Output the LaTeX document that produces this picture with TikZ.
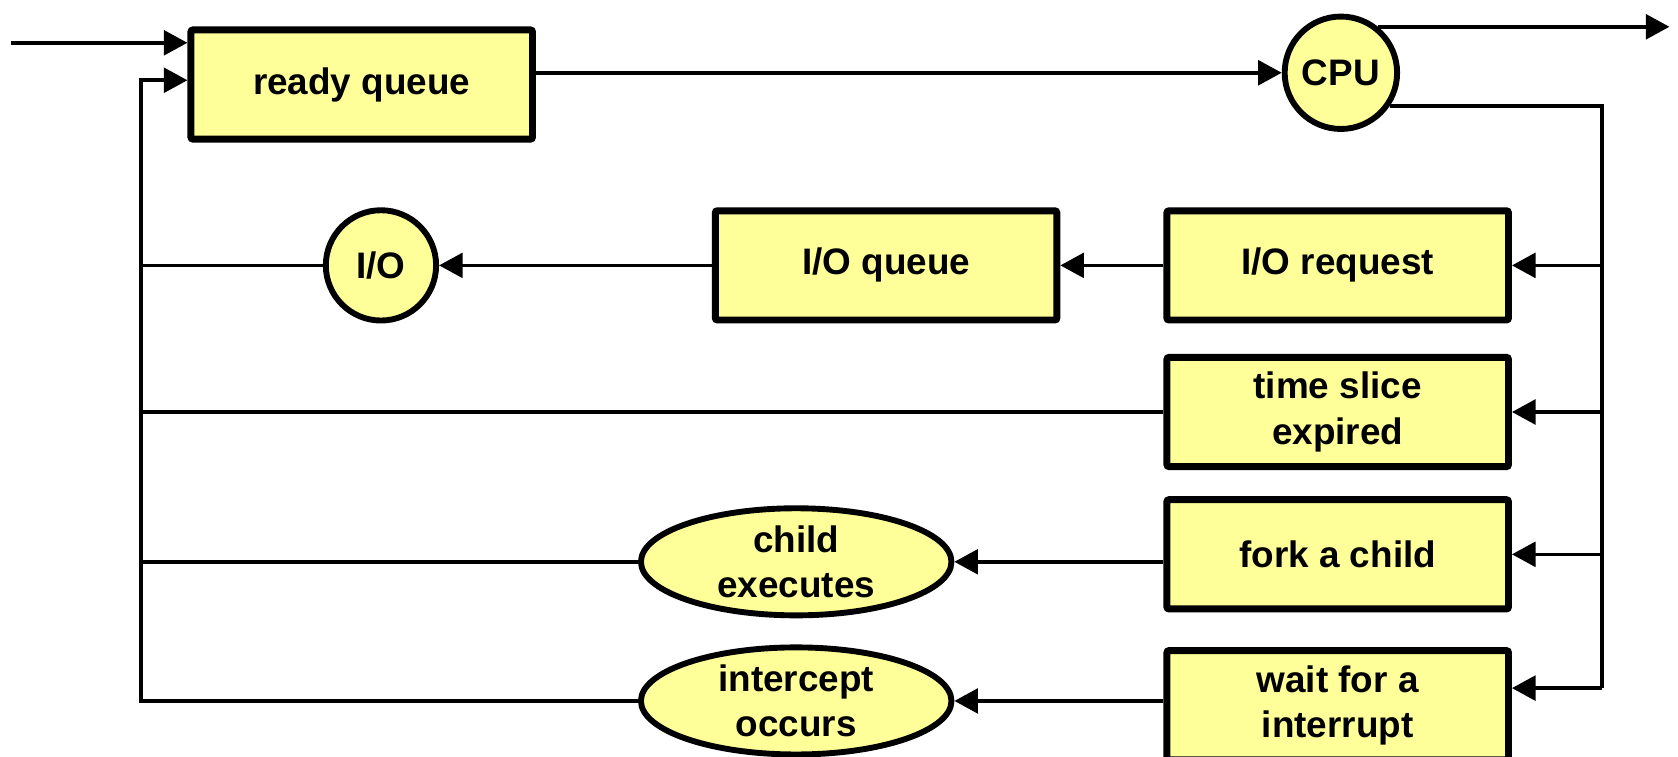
\documentclass[tikz,border=0pt]{standalone}
\usepackage{fontspec}
\setmainfont{Liberation Sans}
\usetikzlibrary{arrows.meta,shapes.geometric}
\definecolor{pale}{RGB}{255,255,153}
\begin{document}
\begin{tikzpicture}[x=0.01cm, y=-0.01cm,
    font=\fontsize{9.8}{12}\selectfont\bfseries,
    box/.style={draw, fill=pale, line width=0.065cm, rounded corners=0.02cm,
      minimum width=3.19cm, minimum height=1.02cm, align=center, inner sep=0pt},
    round/.style={draw, fill=pale, circle, line width=0.055cm, inner sep=0pt},
    oval/.style={draw, fill=pale, ellipse, line width=0.055cm, inner sep=0pt,
      minimum width=2.9cm, minimum height=1cm, align=center},
    arr/.style={-{Triangle[length=0.22cm,width=0.23cm]}},
    every path/.style={line width=0.034cm}]
  \useasboundingbox (0,0) rectangle (1568,707);
  \coordinate (in) at (10,40);
  \coordinate (lft) at (132,75);
  \coordinate (out) at (1560,25);
  \coordinate (bus) at (1497,643);

  \node [box] (rq) at (338,79) {ready queue};
  \node [round, minimum size=1.05cm] (cpu) at (1253,68) {CPU};
  \node [box] (ioreq) at (1250,248) {I/O request};
  \node [box] (ioq) at (828,248) {I/O queue};
  \node [round, minimum size=1.03cm] (io) at (356,248) {I/O};
  \node [box] (slice) at (1250,385) {time slice\\expired};
  \node [box] (fork) at (1250,518) {fork a child};
  \node [oval] (child) at (744,525) {child\\executes};
  \node [box] (wait) at (1250,659) {wait for a\\interrupt};
  \node [oval] (icpt) at (744,655) {intercept\\occurs};

  % main loop
  \draw [arr] (in) -- (in -| rq.west);
  \draw [arr] (rq.east |- cpu) -- (cpu);
  \draw [arr] (cpu.51) -- (cpu.51 -| out);
  \draw (cpu.-34) -| (bus);
  \draw [arr] (bus |- ioreq) -- (ioreq);
  \draw [arr] (bus |- slice) -- (slice);
  \draw [arr] (bus |- fork) -- (fork);
  \draw [arr] (bus) -- (bus -| wait.east);
  \draw [arr] (ioreq) -- (ioq);
  \draw [arr] (ioq) -- (io);
  \draw [arr] (fork.west |- child) -- (child);
  \draw [arr] (wait.west |- icpt) -- (icpt);
  % back to the ready queue
  \draw (io) -- (io -| lft);
  \draw (slice) -- (slice -| lft);
  \draw (child) -- (child -| lft);
  \draw [arr] (icpt) -| (lft) -- (lft -| rq.west);
\end{tikzpicture}
\end{document}
